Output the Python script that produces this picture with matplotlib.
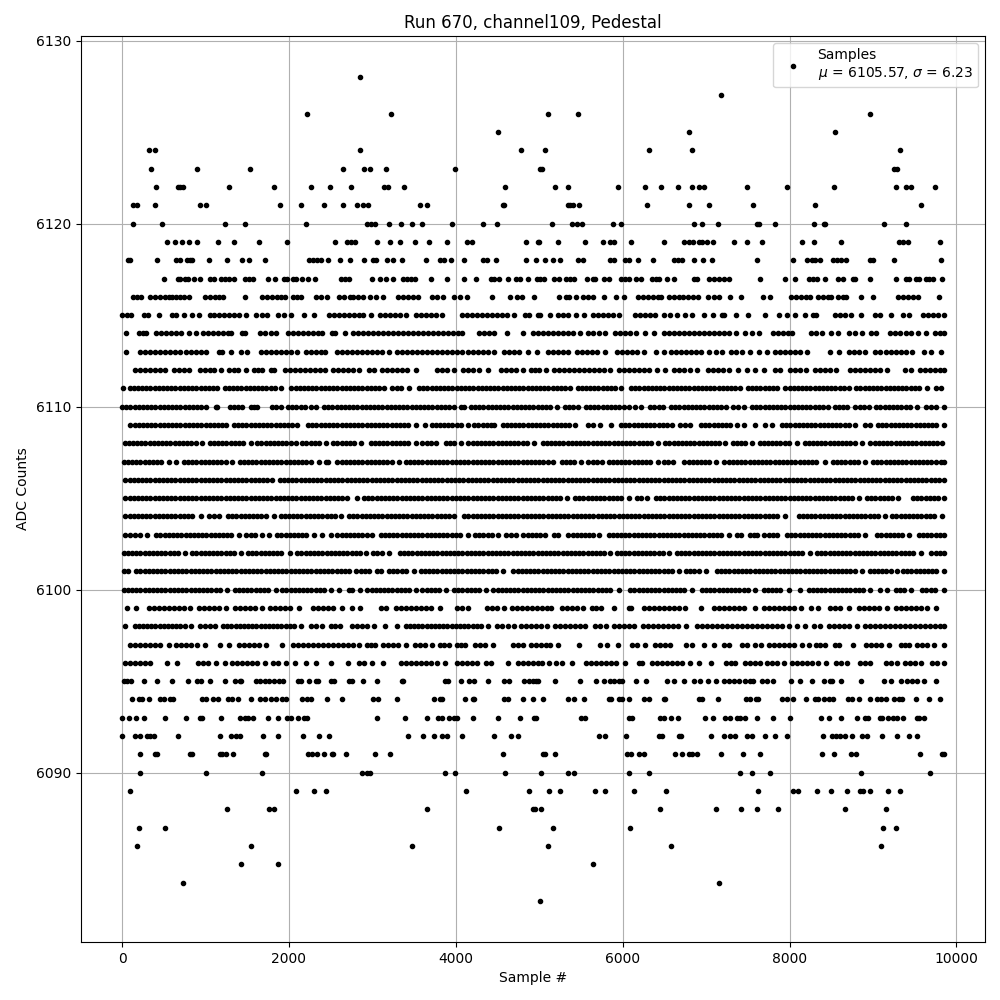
import matplotlib
matplotlib.use("Agg")
import matplotlib.pyplot as plt
import numpy as np

# Sample numbers, in tens of samples, one list per ADC level
a6128=[285]
a6127=[718]
a6126=[222,322,510,547,897]
a6125=[450,680,855]
a6124=[32,39,285,478,507,631,683,932]
a6123=[35,90,153,265,290,297,316,399,501,503,925,929]
a6122=[41,67,70,73,128,182,226,249,274,314,319,338,459,519,535,594,627,646,666,683,691,697,749,797,853,927,940,946,974]
a6121=[13,18,39,93,101,189,214,242,265,281,289,295,357,365,456,458,534,537,541,548,629,679,703,756,830,958]
a6120=[13,48,123,147,220,293,298,303,320,334,347,359,396,432,449,515,539,545,551,588,598,685,695,714,761,763,782,829,841,843,913,939]
a6119=[54,63,72,80,90,115,134,164,198,255,270,274,279,305,321,333,351,368,390,413,419,484,499,500,522,555,576,585,589,610,650,674,679,684,691,695,701,708,733,749,767,815,829,862,931,936,942,980]
a6118=[7,10,42,65,69,78,81,84,104,126,144,152,171,224,229,234,239,247,261,273,290,301,304,317,325,335,364,381,386,394,410,432,437,448,484,496,507,516,525,546,553,585,589,603,607,618,636,661,666,671,685,696,707,761,804,821,827,831,836,852,857,862,868,897,900,925,982]
a6117=[50,67,70,75,79,86,93,105,110,119,123,128,134,147,152,157,175,183,194,198,205,208,216,223,231,262,267,272,300,309,316,325,337,342,346,351,370,390,410,424,442,446,452,462,472,477,486,497,501,506,518,524,532,537,542,557,564,567,578,583,598,603,607,616,622,635,640,644,653,662,685,689,704,709,715,722,727,764,795,806,823,828,833,842,858,864,876,879,897,927,940,943,951,955,963,967,972,983]
a6116=[13,18,23,33,39,45,51,56,60,65,70,74,80,99,105,111,116,121,147,168,174,180,186,191,195,205,210,215,233,239,245,260,266,273,277,283,289,297,304,313,331,337,343,349,355,371,378,385,398,405,413,443,465,473,479,494,524,532,536,544,552,558,564,578,592,602,618,624,630,636,642,646,656,662,668,672,678,684,690,702,709,716,729,742,768,777,802,808,814,820,824,834,840,846,850,858,864,868,886,900,930,936,942,948,954,979]
a6115=[0,6,11,26,31,44,60,65,74,84,92,105,110,116,122,128,134,140,149,161,168,174,187,194,202,218,230,248,254,260,266,272,278,284,289,298,309,315,321,327,333,340,352,358,364,370,376,383,407,413,419,425,431,437,443,449,455,461,470,483,488,499,501,513,523,529,535,544,554,564,570,576,582,588,596,615,621,627,633,639,649,657,665,675,683,698,708,719,722,736,750,770,787,797,807,818,828,832,854,860,867,874,886,903,909,922,936,943,960,966,972,978,985]
a6114=[5,20,25,29,41,47,53,59,65,71,80,89,97,103,109,115,121,127,131,144,147,165,171,178,185,199,205,211,217,223,229,235,240,251,255,267,277,283,289,295,301,307,313,319,325,331,337,343,349,355,361,367,373,379,385,391,397,403,408,428,434,440,446,461,481,493,499,505,511,517,523,529,535,541,549,558,564,572,579,591,597,603,609,616,627,637,649,655,661,667,673,679,685,691,697,703,709,715,721,727,736,747,755,763,780,786,792,798,803,826,832,839,850,858,871,879,887,898,904,920,926,932,939,946,954,963,974,980,985]
a6113=[5,22,28,34,40,46,52,58,64,70,76,82,88,94,100,116,120,131,143,150,166,172,178,184,190,196,202,210,220,226,232,238,243,258,264,270,276,282,288,294,300,306,312,320,330,336,342,348,354,360,366,372,378,384,390,396,402,408,414,420,426,432,438,446,458,464,470,476,486,497,510,516,522,528,535,545,551,557,563,569,579,593,599,605,611,617,626,640,649,658,664,670,676,682,688,694,704,712,719,730,736,743,752,763,773,783,789,795,801,807,813,821,848,859,871,877,883,890,902,909,915,921,927,933,939,947,961,969,981]
a6112=[16,22,28,34,40,46,51,62,68,74,80,93,99,105,110,118,128,134,139,149,158,163,168,178,182,195,201,207,213,219,225,231,237,243,253,259,265,271,277,284,296,302,312,318,324,330,336,342,352,378,384,390,398,409,415,420,428,439,454,460,466,472,480,490,495,500,508,518,524,530,536,542,548,554,560,566,572,578,585,595,601,607,613,619,625,631,641,651,662,668,674,681,689,702,708,714,720,727,738,749,759,769,782,788,800,806,812,820,830,836,842,848,856,872,878,884,890,896,902,908,917,938,945,956,962,968,974,980,985]
a6111=[1,9,14,19,24,29,34,39,44,49,54,59,64,69,74,79,84,89,94,99,104,109,114,123,128,133,138,143,148,153,158,163,168,173,178,183,191,203,208,213,218,223,228,233,238,243,248,253,258,263,268,273,278,283,288,293,298,303,308,314,324,329,334,344,356,361,366,371,376,381,386,391,396,401,406,411,416,421,426,431,436,441,446,451,456,461,466,471,476,481,486,491,496,501,506,511,516,521,526,531,537,546,551,556,561,566,571,576,581,586,591,598,610,615,620,625,630,635,640,645,650,655,660,665,670,675,680,685,690,695,700,705,710,715,720,725,730,735,741,750,755,760,765,770,775,780,785,795,800,805,810,815,820,825,830,835,840,845,850,855,860,865,871,880,885,890,895,900,905,910,915,920,925,930,935,940,945,950,955,965,975,982]
a6110=[0,5,10,15,20,25,30,35,40,45,50,55,60,65,70,75,80,85,90,95,101,112,114,129,134,139,144,154,158,162,180,185,190,199,204,209,214,219,226,233,242,247,252,257,262,267,272,277,282,287,292,297,302,307,312,317,322,327,332,337,342,347,352,357,362,367,372,377,382,387,392,398,406,410,418,423,428,433,438,443,448,453,458,463,468,473,478,483,488,493,498,503,508,513,521,531,536,541,547,556,561,566,571,576,581,586,591,596,601,607,615,622,633,638,643,648,658,663,668,673,678,683,688,693,698,703,708,713,718,724,732,738,745,755,760,765,770,775,780,785,790,795,800,805,810,815,820,825,830,835,840,846,854,859,864,869,879,884,889,895,904,909,914,919,924,929,934,939,944,953,963,970,975,985]
a6109=[10,15,20,25,30,35,40,45,50,55,60,65,70,75,80,85,90,95,100,105,110,115,120,125,134,139,144,149,154,159,164,169,174,179,184,189,194,199,204,210,223,228,233,238,243,248,253,258,263,268,273,278,283,288,293,298,303,308,313,318,323,328,333,338,343,352,363,371,376,381,386,391,396,401,406,414,422,427,432,437,442,446,456,461,466,471,476,481,486,491,496,501,506,511,516,521,526,531,536,543,559,564,573,586,598,603,608,613,618,623,628,633,638,643,648,653,659,669,675,681,694,699,704,709,714,719,724,729,737,745,759,771,779,791,796,801,806,811,816,821,826,831,836,841,846,851,856,861,866,871,879,890,897,906,911,916,921,926,931,936,941,946,951,956,961,966,971,976,985]
a6108=[3,8,13,18,23,28,33,38,43,48,53,58,63,68,73,78,83,88,96,105,110,115,120,125,130,135,140,145,154,162,167,172,177,182,187,192,197,202,208,216,221,226,231,236,244,253,258,263,268,273,278,286,298,303,308,313,318,323,328,333,338,343,352,360,365,370,376,388,393,398,406,415,420,425,430,435,440,445,450,455,460,465,470,475,480,485,494,504,509,514,519,524,529,534,539,544,549,554,559,564,569,574,579,584,589,594,599,604,609,614,619,624,629,634,642,651,656,661,666,671,676,681,686,691,696,701,706,711,716,723,732,737,742,747,755,764,769,774,779,784,789,794,799,809,818,823,828,833,838,843,848,853,858,863,868,873,878,887,897,902,907,912,917,922,927,932,937,942,947,952,957,962,967,972,977,983]
a6107=[2,7,12,17,22,27,32,37,42,47,56,65,74,79,84,89,94,99,104,109,114,119,124,132,141,146,151,156,161,166,171,176,181,186,191,196,201,206,211,216,221,226,236,244,247,258,263,268,273,278,283,288,293,298,303,308,313,318,323,332,340,345,350,355,360,365,370,375,380,385,390,395,400,405,410,415,420,425,430,435,440,445,450,455,460,465,470,475,480,485,490,495,500,505,510,517,527,532,537,542,550,559,564,569,575,583,588,593,598,603,608,613,618,623,628,633,642,650,654,660,674,679,684,689,694,699,704,712,722,727,732,737,742,747,752,757,762,767,772,777,782,787,792,797,802,807,812,817,822,827,832,842,852,857,862,867,872,877,882,891,900,905,910,915,920,925,930,935,940,945,950,955,960,965,970,975,981,985]
a6106=[4,9,14,19,24,29,34,39,44,49,54,59,64,69,74,79,84,89,94,99,104,109,114,119,124,129,134,139,144,149,154,159,164,169,174,180,189,194,199,204,209,214,219,224,229,234,239,244,249,254,259,264,269,274,279,284,289,294,299,304,309,314,319,324,329,334,339,344,349,354,359,364,369,374,379,384,389,394,399,404,409,414,419,424,429,434,439,444,449,454,459,464,469,474,479,484,489,494,499,504,509,514,519,524,529,534,539,544,549,554,559,564,569,574,579,584,589,594,599,604,609,614,619,624,629,634,639,644,649,654,659,664,669,674,679,684,689,694,699,704,709,714,719,724,729,734,739,744,749,754,759,764,769,774,779,784,789,794,799,804,809,814,819,824,829,834,839,844,849,854,859,864,869,874,879,884,889,894,899,904,909,914,919,924,929,934,939,944,949,954,959,964,969,974,979,985]
a6105=[4,9,14,19,24,29,34,39,44,49,54,59,64,69,74,79,84,89,94,99,104,109,114,119,124,129,134,139,144,149,154,159,164,169,174,179,184,189,194,199,204,209,214,219,224,229,234,239,244,249,254,259,264,269,281,290,295,300,305,310,315,320,325,330,335,340,345,350,355,360,365,370,375,380,385,390,395,400,405,410,415,420,425,430,435,440,445,450,455,460,465,470,475,480,485,490,495,500,505,510,515,520,525,533,543,548,553,558,563,568,573,578,583,588,593,598,607,617,622,629,640,645,650,655,660,665,670,675,680,685,690,695,700,705,710,715,720,725,730,735,740,745,750,755,760,765,770,775,780,785,790,795,800,805,810,815,820,825,830,835,840,845,850,855,860,865,870,875,883,893,898,903,908,913,918,923,930,948,953,958,963,968,973,978,985]
a6104=[4,9,14,19,24,29,34,39,44,49,54,59,64,69,74,79,84,94,104,110,116,127,132,137,142,147,152,157,162,167,172,182,190,195,200,205,210,215,220,225,230,235,240,245,250,255,262,272,277,282,287,292,297,302,307,312,317,322,327,332,337,342,347,352,357,362,367,372,377,382,387,392,398,410,415,420,425,430,435,440,445,450,455,460,465,470,475,480,485,490,495,500,505,510,515,520,525,530,535,540,545,550,555,560,565,570,575,580,585,590,595,600,605,610,615,620,625,630,635,640,645,650,655,660,665,670,675,680,685,690,695,700,705,710,715,720,725,730,735,740,745,750,755,760,765,770,775,780,785,794,811,816,821,826,831,836,841,846,851,856,861,866,871,876,881,886,891,896,901,906,914,923,928,933,938,943,948,953,958,963,968,973,983]
a6103=[4,10,16,22,30,41,46,51,56,61,66,71,76,81,86,91,96,101,106,111,116,121,126,131,140,149,154,159,168,176,186,191,196,201,206,211,216,221,230,240,250,258,263,268,273,278,283,288,293,300,310,315,320,325,330,335,340,345,350,355,360,365,370,375,380,385,390,395,400,405,414,423,428,433,438,443,450,460,466,472,481,486,491,496,501,507,518,522,535,540,545,550,555,560,565,572,583,588,593,598,603,608,613,618,623,628,633,638,643,648,653,658,663,668,673,678,683,688,693,698,703,708,713,718,727,737,742,753,757,761,769,775,780,785,797,802,807,812,817,822,827,832,837,842,847,852,857,862,867,872,877,882,891,905,910,915,920,925,930,935,943,955,960,965,970,975,980,985]
a6102=[2,7,12,17,22,27,32,37,42,47,52,57,62,67,75,84,89,94,99,104,109,114,119,124,129,134,142,151,156,161,166,171,176,181,186,191,201,210,215,220,225,230,235,240,245,250,255,260,265,270,275,280,285,292,301,306,311,320,333,338,343,348,353,358,363,368,373,378,383,388,393,398,403,408,413,418,423,428,433,438,443,448,453,458,463,468,473,478,483,488,493,498,503,508,513,518,523,528,533,538,543,548,553,558,563,568,573,578,585,593,598,603,608,613,618,623,628,633,638,643,648,655,665,670,675,680,685,690,695,700,705,710,715,720,725,730,735,740,745,750,755,760,765,770,775,780,785,790,795,800,805,810,815,824,833,838,843,848,853,858,863,868,873,878,883,888,893,898,903,908,913,918,923,928,933,938,943,948,958,970,975,980,985]
a6101=[2,7,17,22,27,32,37,42,47,52,57,62,67,72,77,82,87,92,97,102,107,112,117,122,127,132,137,142,147,152,157,162,167,172,177,182,187,192,197,202,207,212,217,222,227,232,237,242,247,252,257,262,267,272,280,286,291,296,306,310,320,325,330,335,340,350,358,363,368,373,378,383,388,393,398,403,408,413,418,423,428,433,438,443,448,456,469,474,479,484,489,494,499,504,509,514,519,524,529,534,539,544,549,554,559,564,569,574,579,584,589,594,599,604,609,614,619,624,629,634,639,644,649,654,659,667,676,681,686,691,700,713,718,723,728,733,738,743,748,753,758,763,768,773,778,783,788,793,798,803,808,813,818,823,828,833,838,843,848,853,858,863,868,873,878,887,896,901,906,911,916,921,929,936,941,946,951,956,961,966,971,976,985]
a6100=[2,7,12,17,22,27,32,37,42,47,52,57,62,67,72,77,82,87,92,97,102,107,112,117,126,135,140,145,150,155,160,165,170,175,184,192,197,202,207,212,217,222,227,232,237,242,250,260,272,276,285,294,299,304,309,314,319,324,329,334,339,344,352,360,365,370,375,380,388,398,403,408,413,418,423,428,436,445,450,455,460,465,470,475,480,485,490,495,500,505,510,515,520,525,530,535,540,545,550,555,560,565,570,575,580,585,595,609,614,619,624,629,634,639,644,649,654,659,664,669,674,683,695,700,705,710,715,720,725,730,735,740,745,750,759,769,774,779,784,789,799,813,823,828,833,838,843,848,853,858,863,868,873,878,883,888,897,909,917,927,932,937,946,959,964,969,974,985]
a6099=[6,17,32,38,44,50,56,62,68,74,81,92,98,104,110,116,125,135,141,147,153,159,168,177,183,189,195,201,212,229,235,241,247,253,263,275,285,310,316,328,334,340,346,352,358,364,370,381,402,408,414,437,443,449,458,467,473,479,485,491,497,503,509,514,527,533,539,545,553,563,568,574,590,607,610,625,631,637,643,649,655,661,667,675,694,709,715,721,727,733,739,745,758,769,775,781,787,793,799,805,814,826,834,848,854,861,871,883,889,895,901,907,917,927,933,939,945,951,957,965,976]
a6098=[4,15,20,25,30,35,40,45,50,55,60,65,70,75,83,93,99,105,111,121,126,131,136,141,146,151,156,161,166,171,176,181,186,191,196,201,206,214,226,233,240,250,255,261,275,281,287,293,302,315,329,340,345,350,355,360,365,370,375,380,385,390,395,400,405,410,415,420,425,430,438,449,455,462,470,478,484,490,496,502,509,519,525,531,537,543,549,555,567,573,580,589,595,601,607,614,624,630,636,642,648,654,660,666,676,689,695,701,707,713,719,725,731,737,743,749,755,761,767,773,779,785,791,799,809,818,829,837,847,853,859,865,871,881,890,896,902,908,914,920,926,932,938,944,950,956,962,968,974,980,985]
a6097=[10,16,22,28,34,40,46,56,65,71,77,83,90,99,117,128,140,146,152,158,164,173,192,205,211,217,223,229,235,241,247,253,259,265,271,277,284,293,298,303,313,319,325,331,340,351,357,363,371,381,386,392,401,406,411,423,429,435,444,468,474,480,490,496,502,508,513,523,548,573,581,594,611,617,627,639,645,651,657,676,683,697,709,721,728,743,749,759,766,775,781,787,793,799,805,815,823,832,837,843,855,859,876,892,898,904,910,919,933,938,943,953,959,965,973,985]
a6096=[4,10,16,22,28,33,54,66,91,97,103,113,123,132,138,144,150,156,162,171,181,187,196,207,220,232,250,271,284,290,299,313,334,340,346,352,358,364,370,378,387,401,407,413,419,425,436,442,463,474,480,486,492,498,503,512,520,527,539,556,562,568,574,580,586,592,603,620,623,635,641,647,653,659,665,671,681,691,706,724,730,735,747,753,759,764,773,779,785,793,803,809,815,821,827,834,844,856,862,869,885,891,897,916,921,929,938,944,950,957,971,977,985]
a6095=[2,6,11,26,42,60,79,90,95,105,123,135,141,143,160,165,171,176,182,188,193,211,214,224,232,235,250,254,272,276,289,306,335,337,387,391,406,416,422,439,458,464,482,488,492,496,498,519,549,568,578,585,590,595,599,616,628,653,661,673,686,693,702,712,722,728,734,740,746,752,756,767,773,780,802,813,827,841,849,851,862,886,913,922,934,941,947,953,961,976]
a6094=[12,20,24,32,45,50,58,61,96,101,109,115,127,132,139,154,165,171,179,185,192,197,216,222,227,246,263,301,307,329,374,381,384,411,420,422,458,463,481,492,504,534,542,554,583,586,595,599,607,626,631,649,651,691,695,714,748,752,760,762,791,797,804,820,831,834,841,847,852,870,875,883,897,905,910,915,925,931,935,952,967,980]
a6093=[0,8,17,26,51,76,93,96,118,141,147,151,157,175,187,198,202,211,218,222,305,339,366,379,384,392,398,401,420,450,477,494,496,550,555,607,611,645,649,658,666,699,708,723,729,737,741,747,761,780,800,838,847,862,881,891,894,909,911,918,924,929,936,953,955,961]
a6092=[0,16,21,30,34,38,67,117,130,136,141,169,187,217,236,248,343,361,374,383,389,408,446,466,474,572,579,604,644,647,668,670,706,722,729,735,749,755,770,783,797,840,851,856,861,867,875,887,893,911,929,943,953]
a6091=[22,39,42,81,84,117,120,124,133,171,173,223,228,234,242,251,253,268,303,321,457,505,507,519,605,610,619,626,663,671,680,683,689,718,744,764,839,853,874,880,956,983,985]
a6090=[21,100,168,288,293,297,387,399,459,502,534,542,608,631,741,755,776,886,968]
a6089=[10,209,230,244,412,488,512,525,567,579,614,652,762,804,810,833,850,869,885,888,897,918,932]
a6088=[126,176,182,365,492,495,502,645,712,742,761,786,867,915]
a6087=[20,52,452,516,609,912,928]
a6086=[18,154,347,510,658,910]
a6085=[142,187,564]
a6084=[73,716]
a6083=[501]

levels = list(range(6128, 6082, -1))
rows = [a6128, a6127, a6126, a6125, a6124, a6123, a6122, a6121, a6120, a6119,
        a6118, a6117, a6116, a6115, a6114, a6113, a6112, a6111, a6110, a6109,
        a6108, a6107, a6106, a6105, a6104, a6103, a6102, a6101, a6100, a6099,
        a6098, a6097, a6096, a6095, a6094, a6093, a6092, a6091, a6090, a6089,
        a6088, a6087, a6086, a6085, a6084, a6083]

sample = np.concatenate([np.array(r) * 10 for r in rows])
adc = np.concatenate([np.full(len(r), lv) for lv, r in zip(levels, rows)])

title = "Run 670, channel109, Pedestal"
x_label = "Sample #"
y_label = "ADC Counts"
legend_text = "Samples\n$\\mu$ = 6105.57, $\\sigma$ = 6.23"

fig, ax = plt.subplots(figsize=(10, 10), dpi=100)
ax.plot(sample, adc, "k.", label=legend_text)
ax.set_title(title)
ax.set_xlabel(x_label)
ax.set_ylabel(y_label)
ax.grid(True)
ax.legend(loc="upper right")
fig.subplots_adjust(left=0.081, right=0.985, top=0.964, bottom=0.058)
fig.savefig("out.png", dpi=100)
